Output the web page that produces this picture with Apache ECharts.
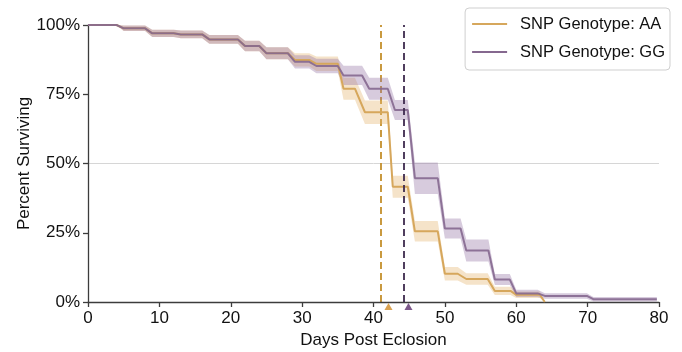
<!DOCTYPE html>
<html>
<head>
<meta charset="utf-8">
<script src="https://cdn.jsdelivr.net/npm/echarts@6/dist/echarts.min.js"></script>
<style>html,body{margin:0;padding:0;background:#fff}#c{width:682px;height:352px}</style>
</head>
<body>
<div id="c"></div>
<script>
// ---- data ----
var xTicks = [0, 10, 20, 30, 40, 50, 60, 70, 80];
var yTicks = [0, 25, 50, 75, 100];

var aaDays = [0, 4, 5, 8, 9, 12, 13, 16, 17, 21, 22, 24, 25, 28, 29, 31, 32, 35, 35.8, 37.4, 38.8, 42, 42.7, 44.8, 45.8, 49, 50, 51.8, 53, 56, 57, 59.2, 60, 63.3, 64];
var aaSurv = [100, 100, 98.8, 98.8, 97.0, 97.0, 96.6, 96.6, 94.8, 94.8, 92.4, 92.4, 89.8, 89.8, 87.4, 87.4, 86.0, 86.0, 77.0, 77.0, 68.5, 68.5, 41.6, 41.6, 25.5, 25.5, 10.2, 10.2, 8.3, 8.3, 4.0, 4.0, 2.6, 2.6, 0];
var aaLow  = [100, 100, 97.8, 97.8, 95.7, 95.7, 95.2, 95.2, 93.2, 93.2, 90.5, 90.5, 87.6, 87.6, 85.0, 85.0, 83.4, 83.4, 73.0, 73.0, 64.3, 64.3, 37.6, 37.6, 21.8, 21.8, 7.8, 7.8, 6.2, 6.2, 2.5, 2.5, 1.4, 1.4, 0];
var aaHigh = [100, 100, 99.8, 99.8, 98.3, 98.3, 98.0, 98.0, 96.4, 96.4, 94.3, 94.3, 92.0, 92.0, 89.8, 89.8, 88.6, 88.6, 81.0, 81.0, 72.7, 72.7, 45.6, 45.6, 29.2, 29.2, 12.6, 12.6, 10.4, 10.4, 5.5, 5.5, 3.8, 3.8, 0];

var ggDays = [0, 4, 5, 8, 9, 12, 13, 16, 17, 21, 22, 24, 25, 28, 29, 31, 32, 35, 35.8, 38.4, 39.4, 42, 43, 44.8, 45.8, 49, 50, 52.2, 53, 56.1, 57, 59.1, 60, 63, 64, 69.9, 70.8, 79.7];
var ggSurv = [100, 100, 98.8, 98.8, 97.0, 97.0, 96.6, 96.6, 94.8, 94.8, 92.4, 92.4, 89.8, 89.8, 86.7, 86.7, 85.2, 85.2, 81.8, 81.8, 77.0, 77.0, 69.3, 69.3, 44.7, 44.7, 26.5, 26.5, 18.6, 18.6, 8.1, 8.1, 3.1, 3.1, 2.2, 2.2, 1.0, 1.0];
var ggLow  = [100, 100, 97.8, 97.8, 95.7, 95.7, 95.2, 95.2, 93.2, 93.2, 90.5, 90.5, 87.6, 87.6, 84.3, 84.3, 82.6, 82.6, 78.3, 78.3, 73.0, 73.0, 65.7, 65.7, 39.0, 39.0, 22.9, 22.9, 14.6, 14.6, 6.1, 6.1, 1.8, 1.8, 1.2, 1.2, 0.2, 0.2];
var ggHigh = [100, 100, 99.8, 99.8, 98.3, 98.3, 98.0, 98.0, 96.4, 96.4, 94.3, 94.3, 92.0, 92.0, 89.1, 89.1, 87.8, 87.8, 85.3, 85.3, 81.0, 81.0, 72.9, 72.9, 50.4, 50.4, 30.1, 30.1, 22.6, 22.6, 10.1, 10.1, 4.4, 4.4, 3.2, 3.2, 1.8, 1.8];

var meanLines = [41.0, 44.3];     // dashed vertical lines (AA, GG)
var medianMarks = [42.1, 44.9];   // triangles under the axis (AA, GG)
var seriesNames = ['SNP Genotype: AA', 'SNP Genotype: GG'];

// ---- styling ----
var AA_LINE = '#d6a75c', AA_BAND = 'rgba(228,182,112,0.38)', AA_DASH = '#c48f2c', AA_TRI = '#d08a24';
var GG_LINE = '#85688f', GG_BAND = 'rgba(150,118,165,0.38)', GG_DASH = '#3e2a4e', GG_TRI = '#5a2d6c';
var FONT = 'Liberation Sans, Arial, sans-serif';

function pairs(xs, ys) { return xs.map(function (x, i) { return [x, ys[i]]; }); }

function band(days, lo, hi, fill, name) {
  return {
    type: 'custom',
    name: name + ' band',
    silent: true,
    z: 1,
    data: days.map(function (d, i) { return [d, lo[i], hi[i]]; }),
    encode: { x: 0, y: [1, 2] },
    renderItem: function (params, api) {
      if (params.dataIndex !== 0) return;
      var pts = [];
      for (var i = 0; i < days.length; i++) pts.push(api.coord([days[i], hi[i]]));
      for (var j = days.length - 1; j >= 0; j--) pts.push(api.coord([days[j], lo[j]]));
      return { type: 'polygon', shape: { points: pts }, style: { fill: fill, stroke: null } };
    }
  };
}

var chart = echarts.init(document.getElementById('c'), null, { renderer: 'canvas' });
chart.setOption({
  animation: false,
  backgroundColor: '#ffffff',
  textStyle: { fontFamily: FONT },
  grid: { left: 88, right: 23, top: 25, bottom: 50, containLabel: false, outerBoundsMode: 'none' },
  legend: {
    orient: 'vertical',
    right: 12, top: 8,
    padding: [6, 5, 8, 7],
    itemGap: 8,
    itemWidth: 35, itemHeight: 2,
    icon: 'rect',
    borderColor: '#cfcfcf', borderWidth: 1, borderRadius: 4,
    backgroundColor: 'rgba(255,255,255,0.9)',
    textStyle: { fontSize: 16.5, color: '#111', fontFamily: FONT, lineHeight: 20, padding: [0, 0, 0, 8] },
    data: [
      { name: seriesNames[0], itemStyle: { color: AA_LINE } },
      { name: seriesNames[1], itemStyle: { color: GG_LINE } }
    ]
  },
  xAxis: {
    type: 'value', min: xTicks[0], max: xTicks[xTicks.length - 1], interval: 10,
    name: 'Days Post Eclosion', nameLocation: 'middle', nameGap: 30, nameMoveOverlap: false,
    nameTextStyle: { fontSize: 17, color: '#111', fontFamily: FONT },
    axisLine: { lineStyle: { color: '#3c3c3c', width: 1.3 } },
    axisTick: { show: true, length: 5, lineStyle: { color: '#3c3c3c', width: 1.3 } },
    axisLabel: { fontSize: 17, color: '#111', margin: 8, fontFamily: FONT },
    splitLine: { show: false }
  },
  yAxis: {
    type: 'value', min: yTicks[0], max: yTicks[yTicks.length - 1], interval: 25,
    name: 'Percent Surviving', nameLocation: 'middle', nameGap: 55, nameRotate: 90, nameMoveOverlap: false,
    nameTextStyle: { fontSize: 17, color: '#111', fontFamily: FONT },
    axisLine: { show: true, lineStyle: { color: '#3c3c3c', width: 1.3 } },
    axisTick: { show: true, length: 5, lineStyle: { color: '#3c3c3c', width: 1.3 } },
    axisLabel: { fontSize: 17, color: '#111', margin: 8, formatter: '{value}%', fontFamily: FONT },
    splitLine: { show: false }
  },
  series: [
    band(aaDays, aaLow, aaHigh, AA_BAND, 'AA'),
    band(ggDays, ggLow, ggHigh, GG_BAND, 'GG'),
    {
      type: 'line', name: seriesNames[0], z: 3,
      data: pairs(aaDays, aaSurv), showSymbol: false, symbol: 'none',
      lineStyle: { color: AA_LINE, width: 2 }, itemStyle: { color: AA_LINE },
      markLine: {
        silent: true, symbol: 'none', label: { show: false }, z: 0,
        data: [
          { yAxis: 50, lineStyle: { color: '#d6d6d6', width: 1, type: 'solid' } },
          { xAxis: meanLines[0], lineStyle: { color: AA_DASH, width: 1.8, type: [7, 4] } }
        ]
      }
    },
    {
      type: 'line', name: seriesNames[1], z: 4,
      data: pairs(ggDays, ggSurv), showSymbol: false, symbol: 'none',
      lineStyle: { color: GG_LINE, width: 2, opacity: 0.9 }, itemStyle: { color: GG_LINE },
      markLine: {
        silent: true, symbol: 'none', label: { show: false },
        data: [
          { xAxis: meanLines[1], lineStyle: { color: GG_DASH, width: 1.8, type: [7, 4] } }
        ]
      }
    },
    {
      type: 'scatter', name: 'AA median', clip: false, silent: true, z: 6,
      symbol: 'triangle', symbolSize: [8, 7],
      itemStyle: { color: AA_TRI },
      data: [[medianMarks[0], -1.6]]
    },
    {
      type: 'scatter', name: 'GG median', clip: false, silent: true, z: 6,
      symbol: 'triangle', symbolSize: [8, 7],
      itemStyle: { color: GG_TRI },
      data: [[medianMarks[1], -1.6]]
    }
  ]
});
</script>
</body>
</html>
